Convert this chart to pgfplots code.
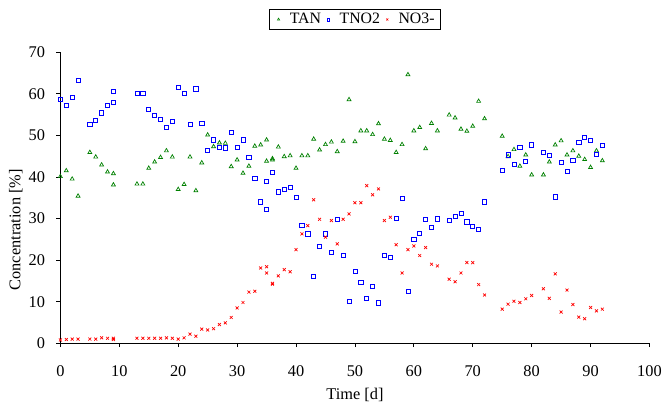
\documentclass[border=0pt]{standalone}
\usepackage{fontspec}
\setmainfont{Liberation Serif}
\usepackage{pgfplots}
\usepackage{pgfplotstable}
\pgfplotsset{compat=1.18}
\definecolor{tangreen}{RGB}{0,128,0}
\definecolor{tnoblue}{RGB}{0,0,255}
\definecolor{nored}{RGB}{255,0,0}

\pgfplotstableread{
x y
0 40.1
1 41.5
2 39.5
3 35.4
5 45.9
6 44.8
7 42.9
8 41.2
9 40.8
9 38.1
13 38.3
14 38.3
15 42.1
16 43.6
17 44.7
18 46.3
19 44.8
20 37.0
21 38.2
22 44.8
23 36.7
24 43.4
25 50.1
26 47.3
27 48.2
28 48.1
29 42.5
30 44.1
31 40.9
32 42.6
33 47.4
34 47.7
35 48.9
35 43.8
36 44.1
36 44.4
37 47.2
38 44.9
39 45.1
40 42.1
41 45.1
42 45.1
43 49.1
44 46.5
45 47.8
46 48.4
47 46.1
48 48.6
49 58.6
50 48.5
51 51.1
52 51.1
53 50.2
54 52.8
55 49.1
56 48.8
57 45.9
58 47.8
59 64.6
60 51.1
61 51.9
62 46.8
63 52.9
64 51.1
66 54.9
67 54.2
68 51.5
69 51.0
70 52.2
71 58.2
72 54.0
75 49.8
76 44.9
77 46.6
78 42.6
79 45.3
80 40.5
82 40.5
83 43.6
84 47.7
85 48.7
86 45.3
87 46.3
88 45.0
89 44.2
90 42.3
91 46.3
92 43.9
}\tantable

\pgfplotstableread{
x y
0 58.6
1 57.3
2 59.1
3 63.2
5 52.7
6 53.7
7 55.4
8 57.2
9 60.5
9 57.9
13 60.2
14 60.2
15 56.3
16 54.8
17 53.8
18 51.9
19 53.4
20 61.5
21 60.1
22 52.7
23 61.2
24 52.8
25 46.3
26 48.9
27 47.1
28 47.0
29 50.8
30 47.2
31 48.9
32 44.8
33 39.7
34 34.0
35 32.3
35 39.0
36 41.1
37 36.4
38 37.0
39 37.5
40 35.1
41 28.3
42 26.3
43 16.1
44 23.3
45 26.3
46 21.8
47 29.7
48 21.1
49 10.0
50 17.3
51 14.7
52 10.7
53 13.7
54 9.7
55 21.1
56 20.6
57 30.0
58 34.8
59 12.5
60 25.0
61 26.5
62 29.8
63 27.8
64 29.9
66 29.5
67 30.6
68 31.2
69 29.2
70 28.1
71 27.3
72 34.0
75 41.6
76 45.3
77 43.0
78 47.1
79 43.7
80 47.7
82 45.9
83 45.1
84 35.2
85 43.5
86 41.4
87 44.0
88 48.3
89 49.6
90 48.8
91 45.4
92 47.5
}\tnotable

\pgfplotstableread{
x y
0 0.8
1 0.9
2 1.0
3 1.0
5 1.0
6 1.0
7 1.3
8 1.2
9 0.9
9 1.2
13 1.2
14 1.2
15 1.2
16 1.2
17 1.2
18 1.3
19 1.2
20 1.0
21 1.3
22 2.2
23 1.7
24 3.4
25 3.2
26 3.5
27 4.5
28 4.9
29 6.2
30 8.5
31 9.8
32 12.3
33 12.5
34 18.1
35 18.4
35 16.9
36 14.4
36 14.2
37 16.2
38 17.7
39 17.2
40 22.5
41 26.3
42 28.3
43 34.5
44 29.8
45 25.5
46 29.5
47 23.9
48 29.8
49 31.1
50 33.8
51 33.8
52 37.9
53 35.7
54 37.1
55 29.5
56 30.3
57 23.7
58 16.9
59 22.5
60 23.4
61 21.1
62 23.0
63 19.0
64 18.6
66 15.4
67 14.8
68 16.9
69 19.4
70 19.4
71 14.1
72 11.6
75 8.2
76 9.4
77 10.1
78 9.8
79 10.7
80 11.5
82 13.1
83 10.8
84 16.7
85 7.5
86 12.8
87 9.3
88 6.3
89 5.9
90 8.6
91 7.8
92 8.2
}\notable

\begin{document}
\fontsize{16bp}{19bp}\selectfont
\begin{tikzpicture}
\path (-61bp,-65.3bp) rectangle (606bp,346.7bp);
\begin{axis}[
  at={(0,0)}, anchor=south west,
  scale only axis,
  width=595bp, height=294bp,
  xmin=0, xmax=100, ymin=0, ymax=70,
  xtick={0,10,...,100}, ytick={0,10,...,70},
  axis x line*=bottom, axis y line*=left,
  axis line style={black, line width=0.8bp},
  tick align=outside,
  major tick length=4bp,
  tick style={black, line width=0.8bp},
  minor tick num=0,
  clip=false,
  /pgf/number format/assume math mode=true,
  tick label style={font=\fontsize{16.5bp}{19bp}\selectfont},
  xticklabel style={yshift=-13bp},
  yticklabel style={xshift=-6bp},
  xlabel={Time [d]},
  ylabel={Concentration [\%]},
  label style={font=\fontsize{16.5bp}{19bp}\selectfont},
  xlabel style={at={(axis description cs:0.5,0)}, anchor=center, yshift=-52bp},
  ylabel style={at={(axis description cs:-0.0756,0.39)}, anchor=center},
  legend columns=3,
  legend style={at={(axis description cs:0.5,1)}, anchor=center, yshift=33bp,
    draw=black, line width=0.8bp, font=\fontsize{16bp}{19bp}\selectfont,
    inner xsep=4bp, inner ysep=2bp,
    /tikz/every even column/.append style={column sep=0bp},
    /tikz/every odd column/.append style={column sep=4bp}},
  legend image code/.code={\path (-5bp,0bp) (5bp,0bp); \draw[#1,mark size=1.4bp,line width=0.6bp] plot coordinates {(0bp,0bp)};},
]
\addplot[only marks, mark=triangle, mark size=2.3bp, color=tangreen, line width=0.7bp] table[x=x,y=y] {\tantable};
\addlegendentry{TAN}
\addplot[only marks, mark=square, mark size=2.1bp, color=tnoblue, line width=0.7bp] table[x=x,y=y] {\tnotable};
\addlegendentry{TNO2}
\addplot[only marks, mark=x, mark size=2.1bp, color=nored, line width=0.7bp] table[x=x,y=y] {\notable};
\addlegendentry{NO3-}
\end{axis}
\end{tikzpicture}
\end{document}
